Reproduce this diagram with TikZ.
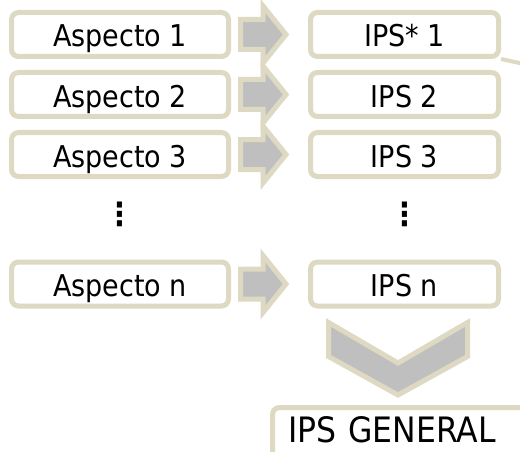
\documentclass[tikz,border=0pt]{standalone}
\usepackage{fontspec}
\setmainfont{DejaVu Sans Condensed}
\usetikzlibrary{positioning,calc,backgrounds}
\definecolor{tanline}{HTML}{DDD9C3}
\definecolor{arrowgray}{HTML}{BFBFBF}
\tikzset{
  box/.style={draw=tanline,line width=5pt,rounded corners=7pt,fill=white,minimum height=44pt,
    inner sep=0pt,text height=25pt,text depth=0pt,font=\fontsize{30}{36}\selectfont},
  aspect/.style={box,minimum width=217pt},
  ips/.style={box,minimum width=188pt},
  general/.style={draw=tanline,line width=5pt,rounded corners=7pt,fill=white,text width=260pt,align=left,
    inner xsep=16pt,inner ysep=9.5pt,text height=25pt,text depth=40pt,font=\fontsize{35}{42}\selectfont},
  vdot/.style={font=\fontsize{32}{38}\selectfont\bfseries},
  fat/.style={draw=tanline,line width=5pt,fill=arrowgray,line join=miter},
  thin/.style={draw=tanline,line width=4pt}
}
\newcommand{\blockarrow}[1]{%
  \draw[fat] ($(#1.east)+(9.5,15)$) -- ++(22.5,0) -- ++(0,13.5) -- ++(23,-28.5) -- ++(-23,-28.5)
    -- ++(0,13.5) -- ++(-22.5,0) -- cycle;}

\begin{document}
\begin{tikzpicture}[x=1pt,y=1pt]
\useasboundingbox (0,0) rectangle (520,-452);
\clip (0,0) rectangle (520,-452);

\node[aspect] (asp1) at (120,-34.5) {Aspecto 1};
\node[aspect] [below=11pt of asp1] (asp2) {Aspecto 2};
\node[aspect] [below=11pt of asp2] (asp3) {Aspecto 3};
\node[vdot] (vdA) at (120,-214) {⋮};
\node[aspect] (aspn) at (120,-284) {Aspecto n};

\node[ips] [right=77pt of asp1] (ips1) {IPS* 1};
\node[ips] [right=77pt of asp2] (ips2) {IPS 2};
\node[ips] [right=77pt of asp3] (ips3) {IPS 3};
\node[vdot] (vdB) at (vdA -| ips3) {⋮};
\node[ips] [right=77pt of aspn] (ipsn) {IPS n};

% arrows between the two columns
\blockarrow{asp1}
\blockarrow{asp2}
\blockarrow{asp3}
\blockarrow{aspn}

% chevron down to the total
\coordinate (chev) at (398,-360);
\draw[fat] ($(chev)+(-69.5,37.5)$) -- ($(chev)+(0,-3)$) -- ($(chev)+(69.5,37.5)$) -- ($(chev)+(69.5,3.5)$)
  -- ($(chev)+(0,-35)$) -- ($(chev)+(-69.5,3.5)$) -- cycle;

\node[general,anchor=north west] (general) at (270,-405) {IPS GENERAL};

\coordinate (offedge) at (545,-68.5);
\begin{scope}[on background layer]
\draw[thin] (ips1.south east) -- (offedge);
\end{scope}

\end{tikzpicture}
\end{document}
